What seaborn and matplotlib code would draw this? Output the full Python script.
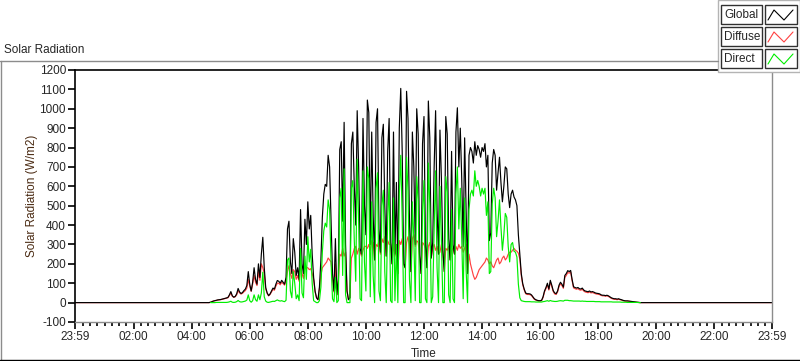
import numpy as np
import pandas as pd
import matplotlib.pyplot as plt
import seaborn as sns
from matplotlib.lines import Line2D
from matplotlib.patches import Rectangle

# Readings every 3 minutes, one list per hour (W/m2); None = no direct reading
global_04 = [0, 0, 0, 0, 0, 0, 0, 0, 0, 0, 0, 0, 0, 2, 5, 8, 10, 12, 14, 15]
global_05 = [16, 18, 20, 22, 24, 27, 40, 57, 35, 28, 32, 45, 73, 55, 47, 52, 62, 70, 88, 160]
global_06 = [95, 60, 105, 180, 120, 95, 200, 130, 250, 337, 180, 78, 50, 36, 45, 60, 75, 70, 95, 114]
global_07 = [110, 100, 115, 105, 95, 130, 380, 420, 210, 150, 330, 260, 140, 180, 120, 480, 200, 150, 430, 300]
global_08 = [520, 380, 450, 250, 130, 60, 25, 15, 80, 220, 440, 560, 610, 600, 760, 700, 420, 150, 60, 330]
global_09 = [40, 120, 790, 830, 420, 930, 300, 60, 15, 25, 820, 880, 600, 400, 990, 700, 280, 250, 950, 500]
global_10 = [350, 1045, 980, 300, 880, 450, 220, 930, 1000, 380, 260, 850, 920, 500, 240, 780, 950, 310, 200, 880]
global_11 = [250, 620, 150, 900, 1105, 780, 200, 180, 1090, 950, 420, 160, 880, 700, 300, 1000, 870, 240, 150, 820]
global_12 = [960, 300, 180, 1040, 850, 230, 310, 700, 990, 480, 250, 890, 640, 260, 160, 960, 870, 330, 220, 780]
global_13 = [300, 250, 880, 1005, 700, 900, 640, 290, 850, 480, 150, 760, 800, 780, 720, 830, 760, 810, 790, 750]
global_14 = [800, 780, 820, 700, 760, 320, 360, 720, 790, 760, 580, 670, 750, 620, 520, 600, 700, 690, 560, 490]
global_15 = [560, 580, 545, 530, 500, 350, 250, 150, 98, 70, 50, 46, 46, 45, 40, 30, 20, 15, 12, 10]
global_16 = [10, 12, 30, 60, 78, 100, 70, 115, 90, 62, 50, 46, 60, 90, 105, 95, 80, 140, 150, 165]
global_17 = [160, 166, 120, 82, 78, 75, 78, 72, 70, 75, 65, 60, 58, 56, 60, 55, 57, 54, 50, 48]
global_18 = [47, 45, 40, 38, 38, 36, 38, 35, 30, 25, 22, 20, 20, 18, 20, 17, 15, 12, 10, 9]
global_19 = [9, 8, 7, 6, 5, 4, 3, 2, 1, 0, 0, 0, 0, 0, 0, 0, 0, 0, 0, 0]

diffuse_04 = [0, 0, 0, 0, 0, 0, 0, 0, 0, 0, 0, 0, 0, 2, 5, 8, 10, 11, 13, 14]
diffuse_05 = [15, 17, 19, 21, 23, 25, 36, 50, 33, 27, 30, 40, 62, 50, 44, 48, 56, 62, 75, 120]
diffuse_06 = [85, 58, 95, 140, 105, 88, 160, 115, 200, 180, 150, 70, 48, 35, 42, 55, 68, 64, 85, 100]
diffuse_07 = [100, 92, 105, 98, 90, 118, 160, 190, 150, 125, 170, 160, 120, 140, 110, 200, 150, 125, 190, 180]
diffuse_08 = [180, 170, 175, 150, 120, 55, 25, 15, 70, 140, 180, 190, 200, 210, 230, 220, 210, 130, 55, 200]
diffuse_09 = [40, 110, 250, 240, 280, 240, 260, 60, 15, 25, 230, 250, 280, 290, 250, 280, 260, 240, 270, 290]
diffuse_10 = [290, 280, 300, 270, 320, 310, 220, 300, 290, 320, 250, 330, 310, 340, 240, 320, 300, 300, 200, 310]
diffuse_11 = [240, 300, 150, 320, 300, 330, 200, 180, 310, 340, 300, 160, 330, 350, 290, 320, 310, 240, 150, 310]
diffuse_12 = [300, 280, 180, 290, 310, 230, 280, 300, 270, 290, 250, 260, 300, 260, 160, 280, 270, 290, 220, 270]
diffuse_13 = [280, 250, 290, 270, 300, 280, 290, 260, 280, 300, 150, 250, 200, 170, 140, 120, 130, 150, 170, 180]
diffuse_14 = [190, 200, 210, 230, 220, 200, 210, 190, 180, 200, 220, 230, 200, 210, 230, 240, 220, 230, 250, 260]
diffuse_15 = [260, 270, 280, 270, 265, 255, 225, 140, 92, 66, 46, 42, 42, 41, 37, 27, 17, 13, 10, 8]
diffuse_16 = [8, 10, 26, 55, 72, 92, 65, 106, 84, 57, 45, 42, 55, 83, 97, 88, 74, 130, 140, 155]
diffuse_17 = [152, 158, 113, 76, 72, 69, 72, 66, 64, 69, 60, 55, 53, 51, 55, 50, 52, 49, 46, 44]
diffuse_18 = [43, 41, 37, 35, 35, 33, 35, 32, 27, 22, 19, 17, 17, 15, 17, 15, 13, 10, 8, 7]
diffuse_19 = [8, 7, 6, 5, 4, 3, 2, 1, 1, 0, 0, 0, 0, 0, 0, 0, 0, 0, 0, 0]

direct_04 = [None, None, None, None, None, None, None, None, None, None, None, None, None,
             0, 0, 0, 0, 1, 1, 1]
direct_05 = [1, 1, 1, 1, 1, 2, 4, 7, 2, 1, 2, 5, 11, 5, 3, 4, 6, 8, 13, 40]
direct_06 = [10, 2, 10, 40, 15, 7, 40, 15, 50, 157, 30, 8, 2, 1, 3, 5, 7, 6, 10, 14]
direct_07 = [10, 8, 10, 7, 5, 12, 220, 230, 60, 25, 160, 100, 20, 40, 10, 280, 50, 25, 240, 120]
direct_08 = [340, 210, 275, 100, 10, 5, 0, 0, 10, 80, 260, 370, 410, 390, 530, 480, 210, 20, 5, 130]
direct_09 = [0, 10, 540, 590, 140, 690, 40, 0, 0, 0, 590, 630, 320, 110, 740, 420, 20, 10, 680, 210]
direct_10 = [60, 700, 640, 30, 520, 140, 0, 590, 670, 60, 10, 500, 580, 160, 0, 440, 620, 10, 0, 540]
direct_11 = [10, 300, 0, 560, 760, 430, 0, 0, 750, 580, 120, 0, 520, 330, 10, 650, 530, 0, 0, 480]
direct_12 = [630, 20, 0, 720, 510, 0, 30, 380, 680, 180, 0, 600, 320, 0, 0, 650, 570, 40, 0, 480]
direct_13 = [20, 0, 560, 700, 380, 590, 330, 20, 540, 170, 0, 480, 560, 580, 550, 680, 600, 630, 600, 550]
direct_14 = [590, 560, 590, 450, 520, 150, 160, 510, 590, 540, 340, 420, 530, 390, 270, 350, 460, 440, 290, 210]
direct_15 = [300, 310, 265, 260, 235, 95, 25, 10, 8, 6, 5, 5, 5, 5, 4, 4, 4, 3, 3, 3]
direct_16 = [3, 3, 5, 6, 8, 10, 7, 11, 8, 7, 6, 6, 7, 9, 10, 9, 8, 12, 12, 12]
direct_17 = [10, 10, 9, 8, 8, 8, 8, 8, 7, 8, 7, 7, 6, 6, 6, 6, 6, 6, 5, 5]
direct_18 = [5, 5, 4, 4, 4, 4, 4, 4, 4, 4, 3, 3, 3, 3, 3, 3, 2, 2, 2, 2]
direct_19 = [1, 1, 1, 1, 1, 1, 1, 1, 0, 0, None, None, None, None, None, None, None, None, None, None]

series_names = ["Global", "Diffuse", "Direct"]
series_colors = {"Global": "#000000", "Diffuse": "#ff4040", "Direct": "#00ee00"}
tick_minutes = [-1, 120, 240, 360, 480, 600, 720, 840, 960, 1080, 1200, 1320, 1439]
tick_labels = ["23:59", "02:00", "04:00", "06:00", "08:00", "10:00", "12:00",
               "14:00", "16:00", "18:00", "20:00", "22:00", "23:59"]
y_ticks = list(range(-100, 1201, 100))

hours = range(4, 20)
g = sum([globals()[f"global_{h:02d}"] for h in hours], [])
d = sum([globals()[f"diffuse_{h:02d}"] for h in hours], [])
b = sum([globals()[f"direct_{h:02d}"] for h in hours], [])

# day runs from 23:59 to 23:59, zero outside the sampled hours
minutes = np.concatenate([[-1], np.arange(240, 1200, 3), [1439]])
df = pd.DataFrame({"Time": minutes,
                   "Global": [0] + g + [0],
                   "Diffuse": [0] + d + [0],
                   "Direct": [None] + b + [None]}).astype(float)
long_df = df.melt(id_vars="Time", var_name="Series", value_name="W")

sns.set_style("white")
plt.rcParams["font.family"] = ["Liberation Sans", "DejaVu Sans"]

W, H = 800, 361
fig = plt.figure(figsize=(W / 100, H / 100), dpi=100)


def fx(px):
    return px / W


def fy(py):
    return 1 - py / H


ax = fig.add_axes([fx(75), fy(322), fx(772) - fx(75), fy(70) - fy(322)])
for name in ["Diffuse", "Global", "Direct"]:
    sns.lineplot(data=long_df[long_df["Series"] == name], x="Time", y="W",
                 color=series_colors[name], estimator=None, sort=False,
                 legend=False, ax=ax, lw=0.85)

ax.set_xlim(-1, 1439)
ax.set_ylim(-100, 1200)
ax.set_xticks(tick_minutes)
ax.set_xticklabels(tick_labels, fontsize=8.5)
minor = [m for m in range(15, 1440, 15) if m not in tick_minutes]
ax.set_xticks(minor, minor=True)
ax.set_yticks(y_ticks)
ax.set_yticklabels([str(v) for v in y_ticks], fontsize=8.5)
ax.tick_params(axis="both", which="major", direction="out", length=5, width=1.2,
               color="black", pad=1.5, bottom=True, left=True)
ax.tick_params(axis="x", which="minor", direction="out", length=3, width=1.2,
               color="black", bottom=True)
ax.set_xlabel("")
ax.set_ylabel("")
for side in ["top", "left"]:
    ax.spines[side].set_color("black")
    ax.spines[side].set_linewidth(1.2)
for side in ["bottom", "right"]:
    ax.spines[side].set_color("#8c8c8c")
    ax.spines[side].set_linewidth(1.0)

fig.text(fx(4), fy(50), "Solar Radiation", fontsize=8.5, va="center", ha="left")
fig.text(fx(424), fy(354), "Time", fontsize=8.5, va="center", ha="center")
fig.text(fx(32), fy(196), "Solar Radiation (W/m2)", fontsize=8.5, rotation=90,
         va="center", ha="center", color="#4a2a12")

# outer frame of the chart control
fig.add_artist(Line2D([fx(0), fx(718)], [fy(61), fy(61)], color="#8c8c8c", lw=1))
fig.add_artist(Line2D([fx(0.5), fx(0.5)], [fy(61), fy(361)], color="#8c8c8c", lw=1))
fig.add_artist(Line2D([fx(0), fx(800)], [fy(360), fy(360)], color="black", lw=1))

# plot legend in the top right corner
fig.add_artist(Rectangle((fx(718), fy(72)), fx(82), fy(0) - fy(72), facecolor="white",
                         edgecolor="#b4b4b4", lw=1))
for i, name in enumerate(series_names):
    top = 5 + 22 * i
    fig.add_artist(Rectangle((fx(721), fy(top + 19)), fx(41), fy(top) - fy(top + 19),
                             facecolor="white", edgecolor="#303030", lw=1))
    fig.add_artist(Rectangle((fx(765), fy(top + 19)), fx(32), fy(top) - fy(top + 19),
                             facecolor="white", edgecolor="#303030", lw=1))
    fig.text(fx(724), fy(top + 10), name, fontsize=8.5, va="center", ha="left")
    zx = [768, 774, 784, 793]
    zy = [top + 15, top + 5, top + 15, top + 5]
    fig.add_artist(Line2D([fx(v) for v in zx], [fy(v) for v in zy],
                          color=series_colors[name], lw=0.8))

fig.savefig("out.png", dpi=100)
